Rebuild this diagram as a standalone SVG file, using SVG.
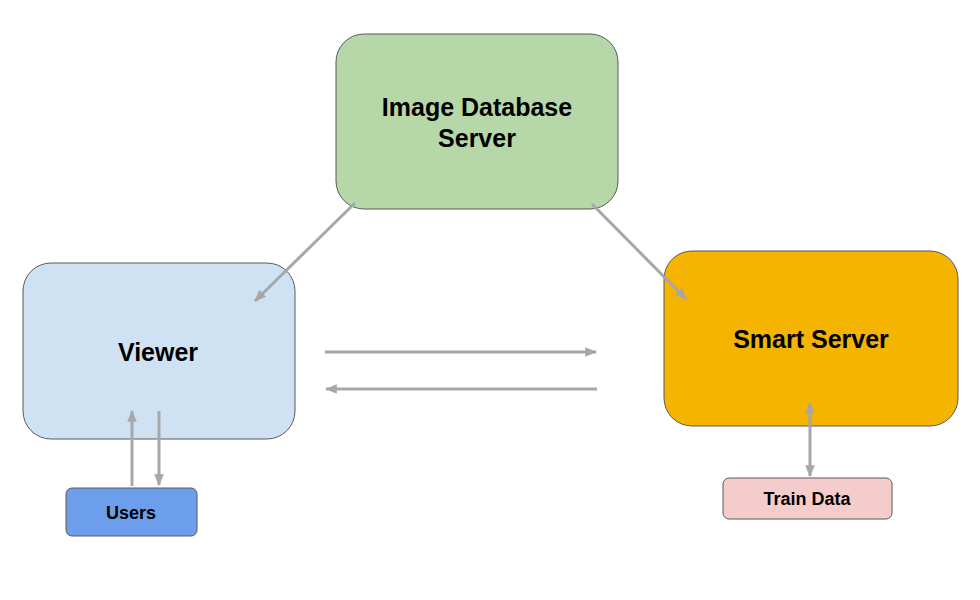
<svg xmlns="http://www.w3.org/2000/svg" width="980" height="600" viewBox="0 0 980 600">
<style>
.box{stroke:#595959;stroke-width:1}
.lbl{font-family:"Liberation Sans",Arial,sans-serif;font-weight:bold;fill:#000;text-anchor:middle}
.big{font-size:25px}
.small{font-size:18px}
.conn{stroke:#a7a7a7;stroke-width:3;fill:none}
</style>
<defs>
<marker id="ah" viewBox="0 0 10 10" refX="9" refY="5" markerWidth="4" markerHeight="4" orient="auto-start-reverse" markerUnits="strokeWidth">
<path d="M0,1 L10,5 L0,9 Z" fill="#a7a7a7"/>
</marker>
</defs>
<rect width="980" height="600" fill="#fff"/>
<g id="image-db">
<rect class="box" x="336" y="34" width="282" height="175" rx="28" fill="#b6d7a8"/>
<text class="lbl big" x="477" y="116">Image Database</text>
<text class="lbl big" x="477" y="147">Server</text>
</g>
<g id="viewer">
<rect class="box" x="23" y="263" width="272" height="176" rx="28" fill="#cfe2f3"/>
<text class="lbl big" x="158" y="361">Viewer</text>
</g>
<g id="smart-server">
<rect class="box" x="664" y="251" width="294" height="175" rx="28" fill="#f4b400"/>
<text class="lbl big" x="811" y="348">Smart Server</text>
</g>
<g id="users">
<rect class="box" x="66" y="488" width="131" height="48" rx="6" fill="#6d9eeb"/>
<text class="lbl small" x="131" y="519">Users</text>
</g>
<g id="train-data">
<rect class="box" x="723" y="478" width="169" height="41" rx="6" fill="#f4cccc"/>
<text class="lbl small" x="807" y="505">Train Data</text>
</g>
<g id="connectors">
<line class="conn" x1="355" y1="203" x2="255" y2="301" marker-end="url(#ah)"/>
<line class="conn" x1="592" y1="204" x2="686" y2="299" marker-end="url(#ah)"/>
<line class="conn" x1="325" y1="352" x2="596" y2="352" marker-end="url(#ah)"/>
<line class="conn" x1="597" y1="389" x2="326" y2="389" marker-end="url(#ah)"/>
<line class="conn" x1="132" y1="486" x2="132" y2="411" marker-end="url(#ah)"/>
<line class="conn" x1="159" y1="411" x2="159" y2="485" marker-end="url(#ah)"/>
<line class="conn" x1="810" y1="403" x2="810" y2="476" marker-start="url(#ah)" marker-end="url(#ah)"/>
</g>
</svg>
